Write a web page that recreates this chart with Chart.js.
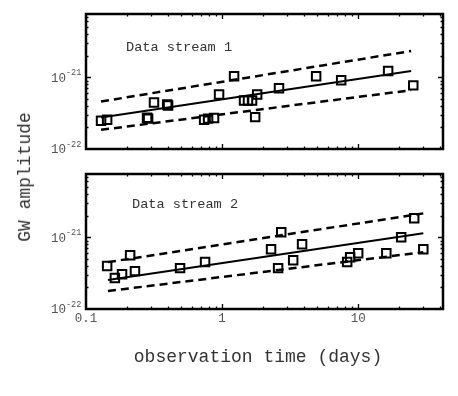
<!doctype html>
<html lang="en">
  <head>
    <meta charset="utf-8">
    <title>GW amplitude vs observation time</title>
    <style>
      * { margin: 0; padding: 0; }
      body {
        background: #fff;
        width: 458px;
        height: 396px;
        position: relative;
        overflow: hidden;
        font-family: "Liberation Mono", "DejaVu Sans Mono", monospace;
      }
      canvas { position: absolute; left: 0; }
      #topChart { top: 0; }
      #bottomChart { top: 160px; }
      .ytitle {
        position: absolute; left: 25px; top: 177px;
        transform: translate(-50%, -50%) rotate(-90deg);
        font-size: 18px; color: #333; white-space: nowrap;
      }
      .xtitle {
        position: absolute; left: 258px; top: 357px;
        transform: translate(-50%, -50%);
        font-size: 18px; color: #333; white-space: nowrap;
      }
    </style>
  </head>
  <body>
    <canvas id="topChart" width="458" height="160"></canvas>
    <canvas id="bottomChart" width="458" height="236"></canvas>
    <div class="ytitle">GW amplitude</div>
    <div class="xtitle">observation time (days)</div>

    <script src="https://cdn.jsdelivr.net/npm/chart.js/dist/chart.umd.min.js"></script>
    <script>
    // data stream 1 (observation time in days, GW amplitude)
    const days1 = [0.129, 0.143, 0.281, 0.286, 0.316, 0.395, 0.401, 0.738, 0.789, 0.873, 0.950,
                   1.225, 1.45, 1.55, 1.66, 1.75, 1.81, 2.62, 4.91, 7.50, 16.6, 25.4];
    const amp1 = [2.48e-22, 2.56e-22, 2.73e-22, 2.65e-22, 4.45e-22, 4.17e-22, 4.03e-22, 2.56e-22, 2.65e-22, 2.70e-22, 5.76e-22,
                  1.03e-21, 4.74e-22, 4.74e-22, 4.74e-22, 2.78e-22, 5.76e-22, 7.0e-22, 1.03e-21, 9.1e-22, 1.22e-21, 7.7e-22];
    // fit curves for stream 1
    const fitDays1 = [0.129, 24.5];
    const fitMid1 = [2.74e-22, 1.22e-21];
    const fitHigh1 = [4.59e-22, 2.32e-21];
    const fitLow1 = [1.85e-22, 6.6e-22];

    // data stream 2
    const days2 = [0.143, 0.163, 0.184, 0.211, 0.229, 0.491, 0.750, 2.29, 2.58, 2.72, 3.33, 3.87,
                   8.30, 8.73, 10.0, 16.1, 20.7, 25.8, 30.1];
    const amp2 = [3.96e-22, 2.70e-22, 3.06e-22, 5.62e-22, 3.37e-22, 3.71e-22, 4.50e-22, 6.81e-22, 3.71e-22, 1.17e-21, 4.79e-22, 8.0e-22,
                  4.50e-22, 5.27e-22, 6.0e-22, 6.0e-22, 1.0e-21, 1.84e-21, 6.81e-22];
    const fitDays2 = [0.145, 30.1];
    const fitMid2 = [2.53e-22, 1.14e-21];
    const fitHigh2 = [4.50e-22, 2.15e-21];
    const fitLow2 = [1.78e-22, 6.19e-22];

    // axis ranges
    const xRange = [0.1, 42];
    const yRange = [1e-22, 7.6e-21];
    const xTickLabels = ['0.1', '1', '10'];

    const MONO = '"Liberation Mono", "DejaVu Sans Mono", monospace';

    function logTicks(min, max) {
      const out = [];
      for (let e = Math.floor(Math.log10(min)); e <= Math.ceil(Math.log10(max)); e++) {
        for (let m = 1; m < 10; m++) {
          const v = m * Math.pow(10, e);
          if (v > min * 1.0001 && v < max * 0.9999) out.push({v, major: m === 1});
        }
      }
      return out;
    }

    function pts(xs, ys) {
      return xs.map((d, i) => ({x: d, y: ys[i]}));
    }

    // frame, inward ticks, tick labels and panel label
    const frame = {
      id: 'frame',
      afterDatasetsDraw(chart, args, opts) {
        const {ctx, chartArea: {left, right, top, bottom}, scales: {x, y}} = chart;
        ctx.save();
        ctx.strokeStyle = '#000';
        ctx.lineWidth = 1.3;
        ctx.beginPath();
        logTicks(x.min, x.max).forEach(t => {
          const px = Math.round(x.getPixelForValue(t.v)) + 0.5;
          const len = t.major ? 5 : 2.5;
          ctx.moveTo(px, bottom); ctx.lineTo(px, bottom - len);
          ctx.moveTo(px, top); ctx.lineTo(px, top + len);
        });
        logTicks(y.min, y.max).forEach(t => {
          const py = Math.round(y.getPixelForValue(t.v)) + 0.5;
          const len = t.major ? 5 : 2.5;
          ctx.moveTo(left, py); ctx.lineTo(left + len, py);
          ctx.moveTo(right, py); ctx.lineTo(right - len, py);
        });
        ctx.stroke();

        ctx.lineWidth = 2.5;
        ctx.strokeRect(left, top, right - left, bottom - top);

        // y tick labels 10^n
        ctx.fillStyle = '#555';
        ctx.textBaseline = 'middle';
        for (let e = Math.ceil(Math.log10(y.min) - 1e-6); e <= Math.floor(Math.log10(y.max) + 1e-6); e++) {
          const py = y.getPixelForValue(Math.pow(10, e));
          ctx.font = '12.5px ' + MONO;
          ctx.textAlign = 'right';
          ctx.fillText('10', left - 20, py + 1);
          ctx.font = '8.5px ' + MONO;
          ctx.textAlign = 'left';
          ctx.fillText('-' + (-e), left - 20, py - 4);
        }

        if (opts.xLabels) {
          ctx.font = '12.5px ' + MONO;
          ctx.textAlign = 'center';
          xTickLabels.forEach(lab => {
            ctx.fillText(lab, x.getPixelForValue(parseFloat(lab)), bottom + 10);
          });
        }

        ctx.fillStyle = '#333';
        ctx.font = '13.6px ' + MONO;
        ctx.textAlign = 'left';
        ctx.fillText(opts.label, left + opts.labelDx, top + opts.labelDy);
        ctx.restore();
      }
    };

    function makeChart(id, days, amp, fitDays, mid, high, low, bottomPad, frameOpts) {
      const dashed = {showLine: true, pointRadius: 0, borderColor: '#000', borderWidth: 2.5, borderDash: [8, 5]};
      return new Chart(document.getElementById(id), {
        type: 'scatter',
        data: {
          datasets: [
            {data: pts(days, amp), pointStyle: 'rect', pointRadius: 6, borderWidth: 2,
             borderColor: '#000', backgroundColor: 'transparent'},
            {data: pts(fitDays, mid), showLine: true, pointRadius: 0, borderColor: '#000', borderWidth: 2},
            Object.assign({data: pts(fitDays, high)}, dashed),
            Object.assign({data: pts(fitDays, low)}, dashed)
          ]
        },
        options: {
          responsive: false,
          animation: false,
          layout: {padding: {left: 86, top: 14, right: 15, bottom: bottomPad}},
          scales: {
            x: {type: 'logarithmic', min: xRange[0], max: xRange[1], display: false},
            y: {type: 'logarithmic', min: yRange[0], max: yRange[1], display: false}
          },
          plugins: {
            legend: {display: false},
            tooltip: {enabled: false},
            frame: frameOpts
          }
        },
        plugins: [frame]
      });
    }

    makeChart('topChart', days1, amp1, fitDays1, fitMid1, fitHigh1, fitLow1, 11,
      {label: 'Data stream 1', labelDx: 40, labelDy: 33, xLabels: false});
    makeChart('bottomChart', days2, amp2, fitDays2, fitMid2, fitHigh2, fitLow2, 87,
      {label: 'Data stream 2', labelDx: 46, labelDy: 30, xLabels: true});
    </script>
  </body>
</html>
